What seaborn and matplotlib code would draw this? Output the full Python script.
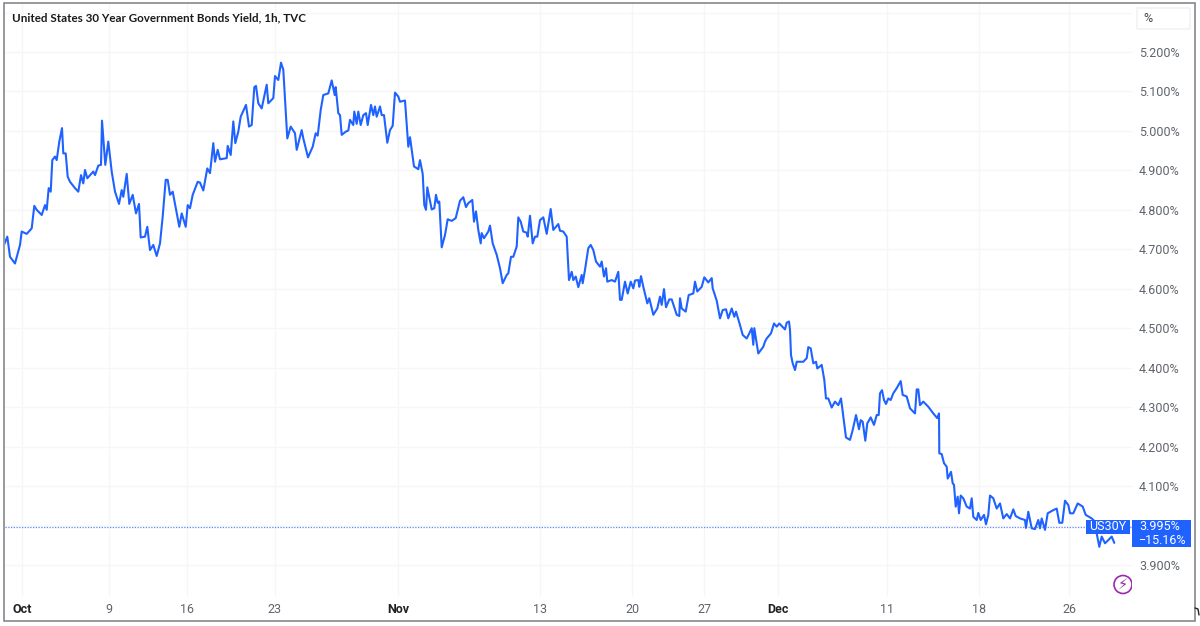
import matplotlib
matplotlib.use('Agg')
import matplotlib.pyplot as plt
import seaborn as sns
from matplotlib.lines import Line2D
from matplotlib.patches import Ellipse, FancyBboxPatch, Rectangle

# Values. Bars are chart positions on the session axis
oct_bars = [4, 7.3, 10, 15, 20, 21.7, 26.7, 31.7, 34.3, 36.7,
            41.7, 45, 46.7, 48.7, 50.7, 52.3, 55, 56.7, 59.3, 62,
            63.3, 65.7, 67.7, 70, 75, 78.3, 81, 83.3, 85, 87.3,
            93.3, 95, 98.3, 101, 102, 105.3, 108.3, 111.7, 115, 119,
            121.7, 123.3, 126.7, 129.3, 132.7, 136, 139, 140.7, 145, 147.3,
            150, 153.3, 156.7, 160, 162.7, 165.7, 167.7, 170, 172.7, 179.3,
            181.7, 185.7, 187.7, 190, 192.7, 197.7, 200, 203.3, 207.3, 210,
            213.3, 215, 217.7, 220, 226.7, 227.7, 230.7, 233.3, 235.3, 238.3,
            240.7, 246, 249, 251.7, 254.3, 256, 258.3, 261.7, 266.7, 268.3,
            273.3, 275, 278.3, 281, 283.3, 287.3, 290.7, 295, 296.7, 301.7,
            303.3, 308, 312.7, 315.7, 317.7, 320.7, 323.3, 328.3, 331.7, 334.7,
            335.7, 338.3, 340, 341.7, 345.7, 348.3, 350, 353.3, 354.3, 356.7,
            358.3, 360.7, 363.3, 366, 367.7, 371, 373.3, 375, 376.7, 380,
            381.7, 384, 387.3, 390, 392.7, 395, 398.3]
oct_yield = [4.711, 4.732, 4.681, 4.664, 4.711, 4.745, 4.739, 4.753, 4.810, 4.800,
             4.787, 4.812, 4.800, 4.855, 4.846, 4.926, 4.935, 4.926, 4.973, 5.007,
             4.943, 4.943, 4.884, 4.871, 4.855, 4.846, 4.888, 4.867, 4.901, 4.880,
             4.897, 4.888, 4.912, 4.914, 5.026, 4.914, 4.973, 4.897, 4.846, 4.815,
             4.850, 4.833, 4.891, 4.815, 4.838, 4.791, 4.815, 4.730, 4.732, 4.757,
             4.698, 4.711, 4.683, 4.715, 4.783, 4.876, 4.876, 4.838, 4.846, 4.757,
             4.791, 4.757, 4.812, 4.804, 4.838, 4.871, 4.869, 4.849, 4.905, 4.893,
             4.969, 4.922, 4.952, 4.928, 4.931, 4.962, 4.939, 5.024, 4.969, 4.998,
             5.036, 5.066, 5.011, 5.015, 5.111, 5.114, 5.070, 5.057, 5.117, 5.070,
             5.083, 5.139, 5.129, 5.173, 5.155, 4.981, 5.011, 4.994, 4.952, 5.002,
             4.981, 4.933, 4.960, 4.994, 4.988, 5.053, 5.091, 5.095, 5.128, 5.091,
             5.111, 5.045, 5.040, 4.990, 4.998, 5.001, 5.028, 5.015, 5.049, 5.018,
             5.049, 5.015, 5.040, 5.045, 5.015, 5.066, 5.040, 5.062, 5.036, 5.062,
             5.040, 5.040, 4.970, 5.002, 5.013, 5.097, 5.087]

nov_bars = [400, 405, 408.3, 410, 414, 418.3, 420, 422.7, 424.3, 426,
            427.3, 431.7, 434.3, 436, 437.7, 439.3, 441.7, 445, 447.7, 451.7,
            455.7, 460, 463.3, 466, 468.3, 472.3, 474, 476, 478.3, 480.7,
            481.7, 484, 488.3, 490, 492.7, 496.7, 500, 502.7, 506.7, 508.3,
            511, 513.3, 516.7, 518.3, 520.7, 523.3, 526.7, 527.7, 530, 532.7,
            535, 537.3, 540, 543.3, 546.7, 550.7, 553.3, 558.3, 560, 563.3,
            566.7, 569, 571.7, 573.3, 575.7, 578.3, 581.7, 582.7, 585, 588.3,
            590.7, 593.3, 596, 600, 601.7, 604, 606, 607.3, 611.7, 615,
            618.3, 620, 621.7, 625, 627.7, 630.7, 633.3, 635, 638.3, 639.3,
            641, 643.3, 647.3, 649.3, 653.3, 657.3, 660, 661.7, 664, 666,
            669.3, 671.7, 676.7, 679.3, 680, 681.7, 685.7, 688.7, 693.3, 695,
            697.3, 701.7, 704.3, 708.3, 711.7, 712.7, 716.7, 720, 722.7, 726,
            728.3, 731.7, 734.3, 736, 740, 742.7, 746.7, 749.3, 751.7, 753.3,
            754.3, 758.3, 763.3, 765, 766.7, 771, 774, 776.7, 779.3, 785,
            786.7, 789]
nov_yield = [5.074, 5.077, 4.960, 4.984, 4.910, 4.903, 4.926, 4.891, 4.812, 4.800,
             4.857, 4.801, 4.804, 4.838, 4.818, 4.821, 4.705, 4.736, 4.776, 4.772,
             4.779, 4.823, 4.832, 4.807, 4.817, 4.825, 4.770, 4.796, 4.749, 4.715,
             4.741, 4.728, 4.745, 4.760, 4.715, 4.686, 4.652, 4.614, 4.635, 4.639,
             4.681, 4.681, 4.707, 4.781, 4.770, 4.745, 4.742, 4.732, 4.785, 4.715,
             4.732, 4.732, 4.774, 4.781, 4.739, 4.802, 4.749, 4.764, 4.747, 4.745,
             4.732, 4.622, 4.643, 4.622, 4.631, 4.604, 4.635, 4.614, 4.648, 4.703,
             4.711, 4.698, 4.669, 4.656, 4.669, 4.631, 4.652, 4.618, 4.622, 4.618,
             4.643, 4.572, 4.572, 4.618, 4.588, 4.618, 4.601, 4.621, 4.622, 4.605,
             4.632, 4.605, 4.563, 4.576, 4.534, 4.550, 4.580, 4.559, 4.599, 4.553,
             4.573, 4.573, 4.534, 4.531, 4.576, 4.550, 4.542, 4.584, 4.588, 4.618,
             4.593, 4.605, 4.629, 4.616, 4.627, 4.601, 4.570, 4.525, 4.546, 4.548,
             4.525, 4.550, 4.529, 4.542, 4.508, 4.483, 4.474, 4.487, 4.500, 4.458,
             4.500, 4.436, 4.453, 4.466, 4.474, 4.487, 4.512, 4.504, 4.512, 4.497,
             4.514, 4.517]

dec_bars = [790, 791, 792.7, 795, 796.7, 803.3, 806.7, 808.3, 810.7, 813.3,
            816, 817.3, 821.7, 824.3, 826, 828.3, 831.7, 835, 838.3, 841,
            843.3, 846, 850, 852.7, 856, 859, 860.7, 862.7, 865.3, 867.3,
            870.7, 874, 876.7, 878.7, 880, 882, 884, 886, 888.3, 890.7,
            893.3, 896.7, 900.7, 902.7, 906.7, 910, 915, 916.7, 918.3, 920,
            923.3, 928.3, 933.3, 937.3, 939, 939.3, 941.7, 944, 946.7, 947.7,
            951, 952.7, 954, 955.7, 957.7, 959, 960.7, 963.3, 966.7, 970,
            971.7, 973.3, 976.7, 978.3, 980.7, 984, 986, 988.3, 990, 993.3,
            996.7, 1000, 1003.3, 1006.7, 1010, 1013.3, 1015.7, 1020, 1025, 1026,
            1028.3, 1031.7, 1035, 1038.3, 1040, 1041.7, 1045, 1047.7, 1053.3, 1056.7,
            1059.3, 1062.3, 1065, 1068.3, 1070, 1073.3, 1077.7, 1082.7, 1085.7, 1091.7,
            1095, 1096.7, 1099.3, 1101.7, 1105, 1108.3, 1111.7, 1114.3]
dec_yield = [4.496, 4.432, 4.411, 4.394, 4.415, 4.415, 4.424, 4.452, 4.449, 4.411,
             4.415, 4.398, 4.407, 4.369, 4.322, 4.322, 4.299, 4.314, 4.305, 4.322,
             4.276, 4.223, 4.217, 4.242, 4.280, 4.244, 4.267, 4.263, 4.215, 4.259,
             4.274, 4.255, 4.280, 4.280, 4.335, 4.343, 4.318, 4.308, 4.322, 4.318,
             4.335, 4.348, 4.366, 4.331, 4.327, 4.297, 4.284, 4.345, 4.345, 4.305,
             4.314, 4.301, 4.284, 4.272, 4.284, 4.183, 4.181, 4.158, 4.149, 4.119,
             4.136, 4.107, 4.103, 4.048, 4.073, 4.031, 4.076, 4.069, 4.048, 4.043,
             4.069, 4.022, 4.014, 4.032, 4.014, 4.027, 4.003, 4.027, 4.076, 4.069,
             4.043, 4.056, 4.018, 4.029, 4.018, 4.041, 4.024, 4.018, 4.014, 3.994,
             4.035, 3.993, 3.991, 4.014, 3.993, 4.018, 3.989, 4.031, 4.039, 4.043,
             4.007, 4.007, 4.063, 4.052, 4.031, 4.031, 4.056, 4.048, 4.027, 4.018,
             4.010, 3.980, 3.946, 3.972, 3.955, 3.963, 3.972, 3.956]

tick_bars = [22, 109, 187, 275, 398, 540, 632, 704, 778, 887, 979, 1069]
tick_labels = ['Oct', '9', '16', '23', 'Nov', '13', '20', '27', 'Dec', '11', '18', '26']
month_labels = ['Oct', 'Nov', 'Dec']
yield_ticks = [3.9, 4.0, 4.1, 4.2, 4.3, 4.4, 4.5, 4.6, 4.7, 4.8, 4.9, 5.0, 5.1, 5.2, 5.3]
last_yield = 3.995
last_change = '\u221215.16%'

W, H = 1200, 626
BLUE = '#1f62ff'
GREY = '#5f646c'

sns.set_theme(style='white')
plt.rcParams['font.family'] = ['Roboto', 'DejaVu Sans']

fig = plt.figure(figsize=(W / 100, H / 100), dpi=100, facecolor='white')


def fx(px):
    return px / W


def fy(py):
    return 1 - py / H


ax = fig.add_axes([fx(5), fy(596), fx(1132 - 5), (596 - 4) / H])
sns.lineplot(x=oct_bars + nov_bars + dec_bars, y=oct_yield + nov_yield + dec_yield,
             color=BLUE, linewidth=1.5, errorbar=None, ax=ax)
ax.axhline(last_yield, color='#5a8dff', linewidth=0.9, linestyle=(0, (1, 1.2)), zorder=1)

ax.set_xlim(5, 1132)
ax.set_ylim(3.8214, 5.3216)
ax.yaxis.tick_right()
ax.set_yticks(yield_ticks)
ax.set_yticklabels([f'{v:.3f}%' if v < 5.25 else '' for v in yield_ticks])
ax.set_xticks(tick_bars)
ax.set_xticklabels(tick_labels)
ax.tick_params(axis='both', length=0, labelsize=9, labelcolor=GREY)
ax.tick_params(axis='y', pad=5)
ax.tick_params(axis='x', pad=5)
for lab in ax.get_xticklabels():
    if lab.get_text() in month_labels:
        lab.set_fontweight('bold')
        lab.set_color('#222222')
ax.grid(True, color='#f6f6f7', linewidth=1)
ax.set_axisbelow(True)
sns.despine(ax=ax, left=True, bottom=True, right=True, top=True)

# outer frame of the screenshot
fig.add_artist(Rectangle((fx(4), fy(621)), (1195 - 4) / W, (621 - 3) / H, transform=fig.transFigure,
                         fill=False, edgecolor='#85888c', linewidth=1.2))
fig.add_artist(Line2D([fx(1195), fx(1198), fx(1199)], [fy(608), fy(609), fy(615)], color='#222222', linewidth=1))

fig.text(fx(12), fy(18), 'United States 30 Year Government Bonds Yield, 1h, TVC',
         family='Lato', fontweight='bold', fontsize=8.4, color='#1a1a1a', va='center')

# unit button
fig.add_artist(FancyBboxPatch((fx(1137), fy(29)), (1190 - 1137) / W, (29 - 8) / H,
                              boxstyle='round,pad=0', transform=fig.transFigure,
                              facecolor='white', edgecolor='#f0f0f0', linewidth=1))
fig.text(fx(1148), fy(18), '%', fontsize=9, color='#444444', va='center', ha='center')

# last value labels
fig.add_artist(Rectangle((fx(1086), fy(534)), 44 / W, 14 / H, transform=fig.transFigure,
                         facecolor=BLUE, edgecolor='none'))
fig.add_artist(Rectangle((fx(1132), fy(547)), 59 / W, 27 / H, transform=fig.transFigure,
                         facecolor=BLUE, edgecolor='none'))
fig.text(fx(1108), fy(527), 'US30Y', fontsize=9, color='white', ha='center', va='center', zorder=5)
fig.text(fx(1139), fy(527), f'{last_yield:.3f}%', fontsize=9, color='white', va='center', zorder=5)
fig.text(fx(1139), fy(540), last_change, fontsize=9, color='white', va='center', zorder=5)

# bolt badge, clipped by the plot edge
badge = Ellipse((fx(1123), fy(584.5)), 18 / W, 18 / H, transform=fig.transFigure,
                fill=False, edgecolor='#9c27b0', linewidth=1.2)
ax.add_patch(badge)
badge.set_clip_path(ax.patch)
fig.text(fx(1123), fy(584.5), '\u26a1', family='DejaVu Sans', fontsize=10.5, color='#9c27b0',
         ha='center', va='center')

fig.savefig('out.png', dpi=100)
